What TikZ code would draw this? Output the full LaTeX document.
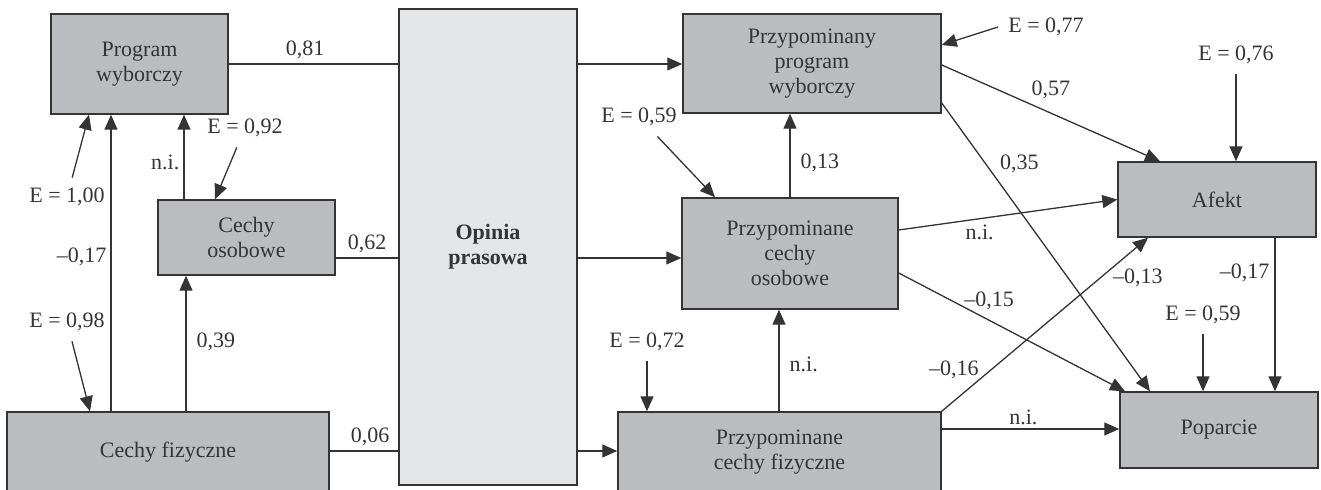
\documentclass[tikz,border=0pt]{standalone}
\usepackage{fontspec}
\setmainfont{Liberation Serif}
\usepackage{xcolor}
\usetikzlibrary{arrows.meta}

\definecolor{boxgray}{RGB}{187,188,192}
\definecolor{pressgray}{RGB}{228,229,231}
\definecolor{inkgray}{RGB}{52,52,52}

\begin{document}
\begin{tikzpicture}[
    x=0.5pt, y=-0.5pt,
    >={Triangle[length=7.5pt,width=6.5pt]},
    every node/.style={font=\fontsize{11}{12.5}\selectfont, text=inkgray},
    var_node/.style 2 args={
        rectangle,
        draw=inkgray,
        fill=boxgray,
        line width=0.7pt,
        inner sep=0pt,
        align=center,
        minimum width=#1,
        minimum height=#2
    },
    press_node/.style={
        rectangle,
        draw=inkgray,
        fill=pressgray,
        line width=0.7pt,
        align=center,
        minimum width=89pt,
        minimum height=238pt,
        font=\fontsize{11}{12.5}\selectfont\bfseries
    },
    err_node/.style={inner sep=5pt},
    coef/.style={inner sep=2pt},
    line_plain/.style={line width=0.65pt, draw=inkgray},
    arrow_main/.style={->, line width=0.65pt, draw=inkgray, fill=inkgray}
]
    \useasboundingbox (0,0) rectangle (1321,490);

    % Observed variables
    \node (prog) [var_node={88.5pt}{50pt}] at (139.5,64) {Program\\wyborczy};
    \node (osob) [var_node={88.5pt}{37.5pt}] at (246.5,237.5) {Cechy\\osobowe};
    \node (fiz) [var_node={161pt}{40pt}] at (168,452) {Cechy fizyczne};
    \node (opinia) [press_node] at (488,247) {Opinia\\prasowa};
    \node (ppw) [var_node={129pt}{49.5pt}] at (812,63.5) {Przypominany\\program\\wyborczy};
    \node (pco) [var_node={108pt}{55.5pt}] at (790,253.5) {Przypominane\\cechy\\osobowe};
    \node (pcf) [var_node={161.5pt}{40pt}] at (779.5,452) {Przypominane\\cechy fizyczne};
    \node (afekt) [var_node={99pt}{37.5pt}] at (1217,199.5) {Afekt};
    \node (poparcie) [var_node={99pt}{38pt}] at (1219,430) {Poparcie};

    % Error terms
    \node (e100) [err_node] at (67,197) {E = 1,00};
    \node (e092) [err_node] at (245,128) {E = 0,92};
    \node (e098) [err_node] at (67,322) {E = 0,98};
    \node (e059a) [err_node] at (639,117) {E = 0,59};
    \node (e072) [err_node] at (647,342) {E = 0,72};
    \node (e077) [err_node] at (1046,27) {E = 0,77};
    \node (e076) [err_node] at (1236,55) {E = 0,76};
    \node (e059b) [err_node] at (1203,315) {E = 0,59};

    % Left block into the press
    \draw [line_plain] (prog.east |- 0,64) -- node[coef, above, pos=0.45] {0,81} (opinia.west |- 0,64);
    \draw [line_plain] (osob.east |- 0,258) -- node[coef, above] {0,62} (opinia.west |- 0,258);
    \draw [line_plain] (fiz.east |- 0,451) -- node[coef, above, pos=0.59] {0,06} (opinia.west |- 0,451);

    \draw [arrow_main] (fiz.north -| 111,0) -- node[coef, left, pos=0.52] {--0,17} (prog.south -| 111,0);
    \draw [arrow_main] (osob.north -| 184,0) -- node[coef, left, pos=0.44] {n.i.} (prog.south -| 184,0);
    \draw [arrow_main] (fiz.north -| 186,0) -- node[coef, right=3pt, pos=0.51] {0,39} (osob.south -| 186,0);

    \draw [arrow_main] (e100) -- (prog.south -| 89,0);
    \draw [arrow_main] (e092) -- (osob.north -| 215,0);
    \draw [arrow_main] (e098) -- (fiz.north -| 90,0);

    % Press into the recalled variables
    \draw [arrow_main] (opinia.east |- 0,64) -- (ppw.west |- 0,64);
    \draw [arrow_main] (opinia.east |- 0,258) -- (pco.west |- 0,258);
    \draw [arrow_main] (opinia.east |- 0,451) -- (pcf.west |- 0,451);

    \draw [arrow_main] (pco.north -| 790,0) -- node[coef, right=3pt, pos=0.41] {0,13} (ppw.south -| 790,0);
    \draw [arrow_main] (pcf.north -| 779,0) -- node[coef, right=3pt, pos=0.46] {n.i.} (pco.south -| 779,0);
    \draw [arrow_main] (e059a) -- (pco.north -| 715,0);
    \draw [arrow_main] (e072) -- (e072 |- pcf.north);
    \draw [arrow_main] (e077.west) -- (ppw.east |- 0,45);

    % Paths to Afekt and Poparcie
    \draw [arrow_main] (ppw.east |- 0,65) -- node[coef, above=5pt, pos=0.5] {0,57} (afekt.north -| 1160,0);
    \draw [arrow_main] (ppw.east |- 0,103) -- node[coef, right=5pt, pos=0.21] {0,35} (poparcie.north -| 1150,0);
    \draw [arrow_main] (pco.east |- 0,230) -- node[coef, below=1pt, pos=0.37] {n.i.} (afekt.west);
    \draw [arrow_main] (pcf.north east) -- node[coef, left=4pt, pos=0.24] {--0,16} node[coef, right=4pt, pos=0.77] {--0,13} (afekt.south -| 1148,0);
    \draw [arrow_main] (pco.east |- 0,273) -- node[coef, above=3pt, pos=0.4] {--0,15} (poparcie.north -| 1125,0);
    \draw [arrow_main] (afekt.south -| 1275,0) -- node[coef, left=0.5pt, pos=0.23] {--0,17} (poparcie.north -| 1275,0);
    \draw [arrow_main] (pcf.east |- 0,429) -- node[coef, above, pos=0.46] {n.i.} (poparcie.west |- 0,429);
    \draw [arrow_main] (e076) -- (e076 |- afekt.north);
    \draw [arrow_main] (e059b) -- (e059b |- poparcie.north);

\end{tikzpicture}
\end{document}
